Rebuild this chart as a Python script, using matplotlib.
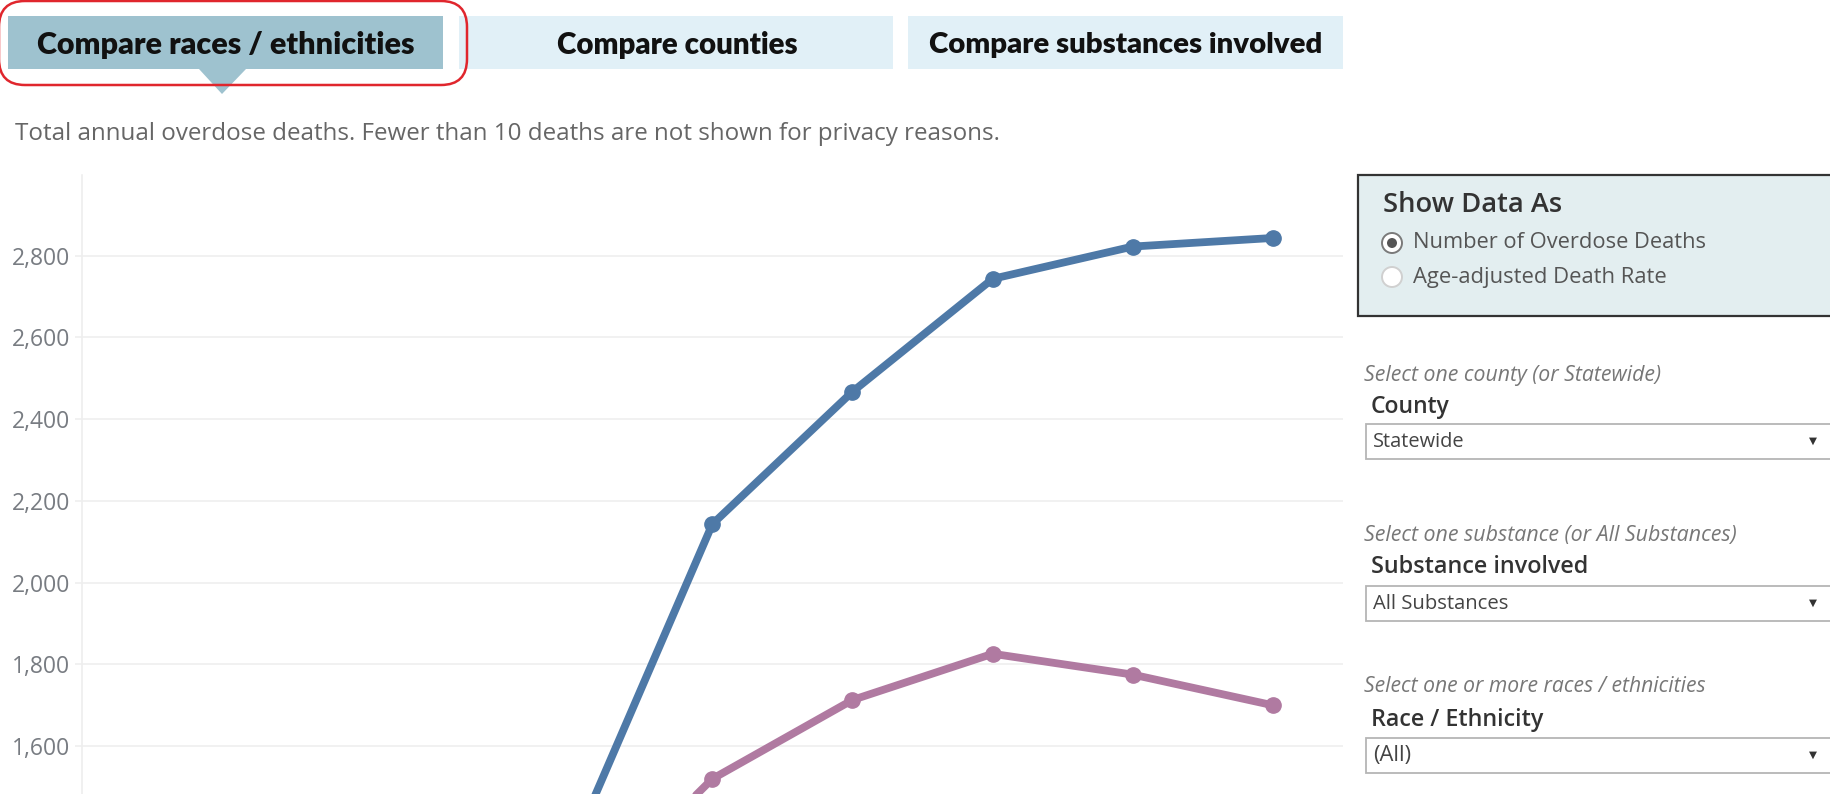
import matplotlib
matplotlib.use("Agg")
import matplotlib.pyplot as plt
from matplotlib.patches import Rectangle, FancyBboxPatch, Polygon, Circle
from matplotlib.ticker import FuncFormatter, FixedLocator

# data (only the later years fall inside the visible window)
years = [2014, 2015, 2016, 2017, 2018, 2019, 2020, 2021, 2022]
blue_vals = [None, None, None, 1350, 2143, 2467, 2743, 2822, 2843]
pink_vals = [None, None, None, 1180, 1520, 1713, 1826, 1775, 1700]
yticks = [1600, 1800, 2000, 2200, 2400, 2600, 2800]

tabs = ["Compare races / ethnicities", "Compare counties", "Compare substances involved"]
subtitle = "Total annual overdose deaths. Fewer than 10 deaths are not shown for privacy reasons."

W, H = 1831, 794
fig = plt.figure(figsize=(W / 100, H / 100), dpi=100)
fig.patch.set_facecolor("white")

# ---- chart ----
ax = fig.add_axes([81.7 / W, 0, (1343 - 81.7) / W, (H - 175) / H])
xs = list(range(len(years)))
bx = [x for x, v in zip(xs, blue_vals) if v is not None]
by = [v for v in blue_vals if v is not None]
px = [x for x, v in zip(xs, pink_vals) if v is not None]
py = [v for v in pink_vals if v is not None]
ax.plot(bx, by, color="#4e79a7", lw=5.6, marker="o", ms=11, zorder=3, solid_capstyle="round")
ax.plot(px, py, color="#b07aa1", lw=5.6, marker="o", ms=11, zorder=3, solid_capstyle="round")
ax.set_xlim(-0.5, len(years) - 0.5)
ax.set_ylim(1483, 2997)
ax.yaxis.set_major_locator(FixedLocator(yticks))
ax.yaxis.set_major_formatter(FuncFormatter(lambda v, p: f"{int(v):,}"))
ax.grid(axis="y", color="#efefef", lw=1.2)
ax.set_axisbelow(True)
ax.set_xticks([])
for s in ["top", "right", "bottom"]:
    ax.spines[s].set_visible(False)
ax.spines["left"].set_color("#eeeeee")
ax.spines["left"].set_linewidth(1.2)
ax.tick_params(axis="y", length=5, width=1.2, color="#efefef", pad=3.5,
               labelsize=16.5, labelcolor="#787c82")
for lab in ax.get_yticklabels():
    lab.set_fontfamily("Open Sans")

# ---- overlay in pixel coords ----
ui = fig.add_axes([0, 0, 1, 1])
ui.set_xlim(0, W)
ui.set_ylim(H, 0)
ui.axis("off")
ui.patch.set_alpha(0)

fits = []
def label(x, y, s, w, **kw):
    t = ui.text(x, y, s, **kw)
    fits.append((t, w))
    return t

# tabs
ui.add_patch(Rectangle((8, 16), 435, 53, fc="#9ec2cf", ec="none"))
ui.add_patch(Polygon([[199, 69], [246, 69], [222, 94]], fc="#9ec2cf", ec="none"))
ui.add_patch(Rectangle((459, 16), 434, 53, fc="#e1f0f7", ec="none"))
ui.add_patch(Rectangle((908, 16), 435, 53, fc="#e1f0f7", ec="none"))
ui.add_patch(FancyBboxPatch((-1, 1), 468, 84, boxstyle="round,pad=0,rounding_size=26",
                            fc="none", ec="#e0262d", lw=1.8))
tab_cx = [226, 677, 1126]
tab_w = [376, 241, 394]
for s, cx, w in zip(tabs, tab_cx, tab_w):
    label(cx, 45, s, w, ha="center", va="center", fontsize=19, fontweight="heavy",
          family="Lato", color="#111111")

label(15, 134, subtitle, 985, ha="left", va="center", fontsize=15, family="Open Sans",
      color="#666666")

# show data as box
ui.add_patch(Rectangle((1358, 175), 490, 141, fc="#e3eef0", ec="#333333", lw=1.6))
label(1383, 205, "Show Data As", 179, ha="left", va="center", fontsize=17,
      family="Open Sans", fontweight="semibold", color="#333333")
ui.add_patch(Circle((1392, 243), 10, fc="white", ec="#7a7a7a", lw=1.4))
ui.add_patch(Circle((1392, 243), 5, fc="#555555", ec="none"))
ui.add_patch(Circle((1392, 277), 10, fc="white", ec="#d0d0d0", lw=1.4))
label(1413, 243, "Number of Overdose Deaths", 293, ha="left", va="center", fontsize=15,
      family="Open Sans", color="#555555")
label(1413, 277, "Age-adjusted Death Rate", 254, ha="left", va="center", fontsize=15,
      family="Open Sans", color="#555555")

# filters
filters = [
    ("Select one county (or Statewide)", 299, "County", 79, "Statewide", 92, 376, 407, 424),
    ("Select one substance (or All Substances)", 375, "Substance involved", 218, "All Substances", 136, 535, 567, 586),
    ("Select one or more races / ethnicities", 343, "Race / Ethnicity", 172, "(All)", 38, 687, 720, 738),
]
for hint, hw, name, nw, val, vw, hy, ny, by0 in filters:
    label(1364, hy, hint, hw, ha="left", va="center", fontsize=14, style="italic",
          family="Open Sans", color="#777777")
    label(1371, ny, name, nw, ha="left", va="center", fontsize=16, fontweight="semibold",
          family="Open Sans", color="#333333")
    ui.add_patch(Rectangle((1366, by0), 480, 35, fc="white", ec="#b5b5b5", lw=1.3))
    label(1373, by0 + 18, val, vw, ha="left", va="center", fontsize=14,
          family="Open Sans", color="#444444")
    ui.text(1813, by0 + 17, "\u25bc", ha="center", va="center", fontsize=7.5, color="#333333")

# scale text to the measured widths
fig.canvas.draw()
r = fig.canvas.get_renderer()
for t, w in fits:
    bb = t.get_window_extent(r)
    t.set_fontsize(t.get_fontsize() * w / bb.width)

fig.savefig("out.png", dpi=100)
